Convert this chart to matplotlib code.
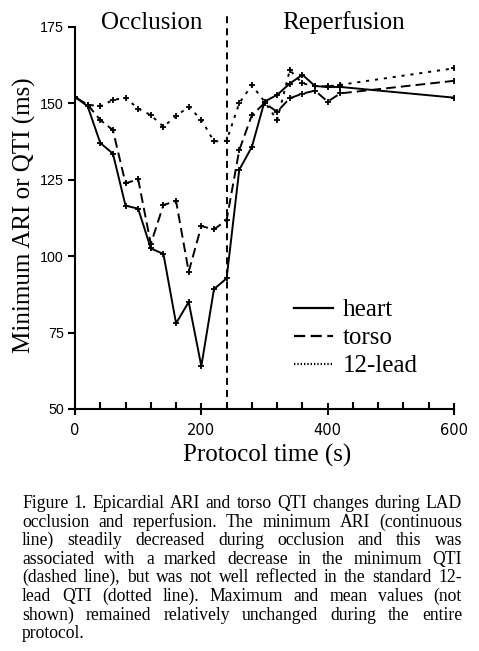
import matplotlib
matplotlib.use('Agg')
import matplotlib.pyplot as plt
from matplotlib.lines import Line2D
from matplotlib.ticker import MultipleLocator

# ---------------- data ----------------
time_s = [0, 20, 40, 60, 80, 100, 120, 140, 160, 180, 200, 220, 240,
          260, 280, 300, 320, 340, 360, 380, 400, 420, 600]
heart = [152, 149, 137, 133.5, 116.5, 115.5, 102.5, 100.7, 78, 85, 64, 89.2, 92.7,
         128.2, 135.7, 150.5, 152.7, 156.4, 159.3, 155.6, 155.3, 155.3, 151.8]
torso = [152, 149.5, 144.5, 141.2, 123.8, 125.1, 104, 116.7, 118, 94.9, 109.8, 108.7, 111.8,
         134.6, 146.1, 150, 147.2, 151.6, 153.1, 154.1, 150.5, 153.2, 157.3]
lead12 = [152, 149.5, 149, 151, 151.8, 148.2, 146.1, 142.3, 145.8, 148.8, 144.6, 137.5, 137.7,
          150, 155.9, 150.5, 144.5, 160.8, 156.5, 155.5, 155.5, 156, 161.4]
series_names = ['heart', 'torso', '12-lead']
reperfusion_start = 240
phase_labels = ['Occlusion', 'Reperfusion']
x_ticks = [0, 200, 400, 600]
y_ticks = [50, 75, 100, 125, 150, 175]
caption_lines = [
    "Figure 1. Epicardial ARI and torso QTI changes during LAD",
    "occlusion and reperfusion. The minimum ARI (continuous",
    "line) steadily decreased during occlusion and this was",
    "associated with a marked decrease in the minimum QTI",
    "(dashed line), but was not well reflected in the standard 12-",
    "lead QTI (dotted line). Maximum and mean values (not",
    "shown) remained relatively unchanged during the entire",
    "protocol.",
]

W, H = 479, 651
SERIF = ['Liberation Serif', 'DejaVu Serif']
fig = plt.figure(figsize=(W / 100, H / 100), dpi=100)
fig.patch.set_facecolor('white')

ax = fig.add_axes([75 / W, 1 - 409 / H, (454 - 75) / W, (409 - 26.7) / H])
lw = 1.4
mk = dict(marker='+', markersize=4.5, markeredgewidth=1.3, color='black')
ax.plot(time_s, heart, linestyle='-', lw=lw, **mk)
ax.plot(time_s, torso, linestyle=(0, (5, 2.6)), lw=lw, **mk)
ax.plot(time_s, lead12, linestyle=(0, (1.6, 3.0)), lw=lw, **mk)

ax.plot([reperfusion_start, reperfusion_start], [50, 178.8], color='black', lw=1.4,
        linestyle=(0, (3.6, 2.6)), clip_on=False)

ax.set_xlim(0, 600)
ax.set_ylim(50, 175)
for s in ['top', 'right']:
    ax.spines[s].set_visible(False)
for s in ['left', 'bottom']:
    ax.spines[s].set_linewidth(1.5)

ax.set_xticks(x_ticks)
ax.xaxis.set_minor_locator(MultipleLocator(40))
ax.set_yticks(y_ticks)
ax.tick_params(axis='x', which='major', direction='inout', length=8, width=1.5, pad=6)
ax.tick_params(axis='x', which='minor', direction='in', length=5, width=1.5)
ax.tick_params(axis='y', which='major', direction='out', length=5, width=1.5, pad=3)
for lab in ax.get_xticklabels():
    lab.set_fontfamily('DejaVu Sans')
    lab.set_fontsize(10.5)
for lab in ax.get_yticklabels():
    lab.set_fontfamily('Liberation Sans')
    lab.set_fontsize(10.3)

fig.text(267 / W, 1 - 455 / H, 'Protocol time (s)', family=SERIF, fontsize=18,
         ha='center', va='center')
fig.text(24 / W, 1 - 215 / H, 'Minimum ARI or QTI (ms)', family=SERIF, fontsize=18,
         ha='center', va='center', rotation=90)
fig.text(152 / W, 1 - 23 / H, phase_labels[0], family=SERIF, fontsize=18,
         ha='center', va='center')
fig.text(344 / W, 1 - 23 / H, phase_labels[1], family=SERIF, fontsize=18,
         ha='center', va='center')

handles = [Line2D([], [], color='black', lw=1.6, linestyle='-'),
           Line2D([], [], color='black', lw=1.6, linestyle=(0, (5, 2.5))),
           Line2D([], [], color='black', lw=1.6, linestyle=(0, (0.6, 0.9)))]
leg = ax.legend(handles, series_names, loc='upper left',
                bbox_to_anchor=((294 - 75) / (454 - 75), (409 - 299) / (409 - 26.7)),
                frameon=False, prop={'family': SERIF, 'size': 18}, handlelength=1.55,
                handletextpad=0.4, labelspacing=0.22, borderpad=0, borderaxespad=0)

# caption, justified
renderer = fig.canvas.get_renderer()
left_px, right_px = 22, 462
base0, dy = 508, 18.6
cfs = 12.7
for i, line in enumerate(caption_lines):
    yb = 1 - (base0 + i * dy) / H
    words = line.split(' ')
    texts = [fig.text(0, yb, w, family=SERIF, fontsize=cfs, va='baseline', ha='left')
             for w in words]
    widths = [t.get_window_extent(renderer).width for t in texts]
    if i == len(caption_lines) - 1 or len(words) == 1:
        sp = fig.text(0, 0, 'a a', family=SERIF, fontsize=cfs)
        sa = fig.text(0, 0, 'aa', family=SERIF, fontsize=cfs)
        gap = sp.get_window_extent(renderer).width - sa.get_window_extent(renderer).width
        sp.remove(); sa.remove()
    else:
        gap = (right_px - left_px - sum(widths)) / (len(words) - 1)
    x = left_px
    for t, w in zip(texts, widths):
        t.set_x(x / W)
        x += w + gap

fig.savefig('out.png', dpi=100, facecolor='white')
